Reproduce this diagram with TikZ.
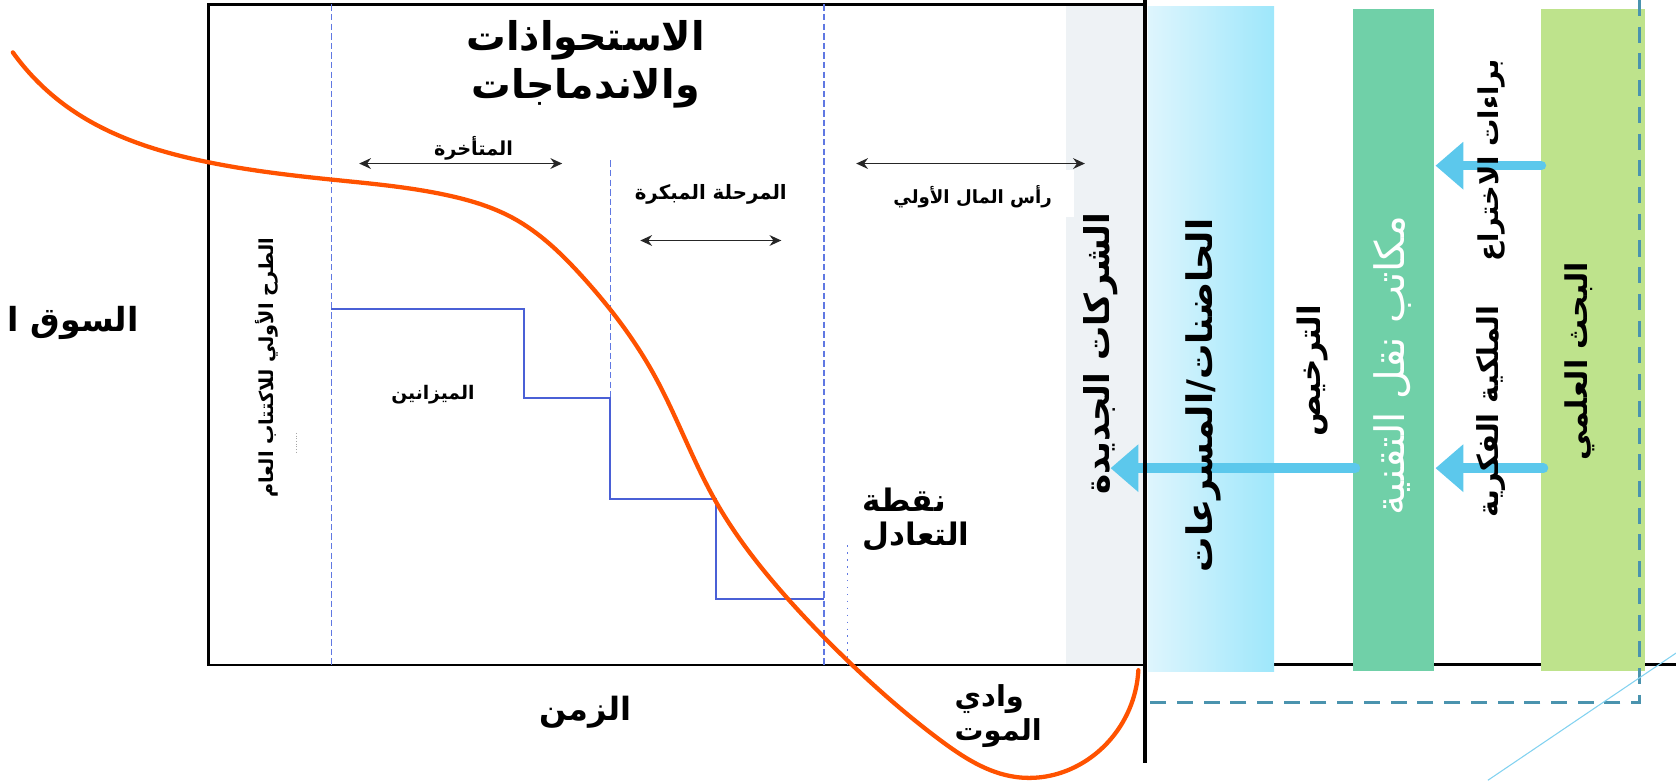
\documentclass[tikz,border=0pt]{standalone}
\usepackage{fontspec}
\newfontfamily\arfont[Script=Arabic]{DejaVu Sans}
\TeXXeTstate=1
\usetikzlibrary{arrows.meta,hobby}
\newcommand{\artext}[1]{\beginR #1\endR}
\definecolor{orangecurve}{RGB}{255,82,0}
\definecolor{stepblue}{RGB}{74,96,214}
\definecolor{dashblue}{RGB}{96,120,226}
\definecolor{graybox}{RGB}{238,242,245}
\definecolor{lbL}{RGB}{222,245,253}
\definecolor{lbR}{RGB}{158,231,251}
\definecolor{tgreen}{RGB}{112,208,168}
\definecolor{lgreen}{RGB}{190,227,140}
\definecolor{arrblue}{RGB}{92,200,236}
\definecolor{tealdash}{RGB}{74,147,174}
\definecolor{diagblue}{RGB}{130,210,240}
\tikzset{
  lbl/.style={inner sep=0pt, font=\arfont\bfseries\fontsize{#1}{#1}\selectfont},
  rlbl/.style={inner sep=0pt, font=\arfont\fontsize{#1}{#1}\selectfont},
  dbl/.style={line width=1.8pt, draw=black!85, {Stealth[length=11pt,width=10pt]}-{Stealth[length=11pt,width=10pt]}},
  flow/.style={line width=9pt, draw=arrblue, line cap=round, -{Triangle[length=26pt,width=43pt]}},
  vdash/.style={draw=dashblue, line width=1.4pt, dash pattern=on 6pt off 3pt},
  frame/.style={draw=black, line width=2.5pt},
}
\begin{document}
\begin{tikzpicture}[x=1pt,y=-1pt]
\useasboundingbox (0,0) rectangle (1568,730);
% background boxes
\fill[graybox] (997,4) rectangle (1070,622);
\fill[white] (990,159) rectangle (1005,203);
\draw[line width=3pt] (1192,622) -- (1568,622);
\shade[left color=lbL, right color=lbR] (1074,6) rectangle (1192,628);
\fill[tgreen] (1266,8) rectangle (1342,628);
\fill[lgreen] (1442,8) rectangle (1539,628);
% teal dashed frame
\coordinate (t1) at (1534,0);
\coordinate (t2) at (1534,657);
\coordinate (t3) at (1074,657);
\draw[tealdash, line width=3pt, dash pattern=on 15pt off 10pt] (t1) -- (t2) -- (t3);
% diagonal thin line
\coordinate (d1) at (1392,730);
\coordinate (d2) at (1568,611);
\draw[diagblue, line width=1pt] (d1) -- (d2);
% blue flow arrows
\coordinate (a1s) at (1442,155);
\coordinate (a1e) at (1343,155);
\coordinate (a2s) at (1444,438);
\coordinate (a2e) at (1343,438);
\coordinate (a3s) at (1268,438);
\coordinate (a3e) at (1039,438);
\draw[flow] (a1s) -- (a1e);
\draw[flow] (a2s) -- (a2e);
\draw[flow] (a3s) -- (a3e);
% frame
\coordinate (f1) at (1070,4);
\coordinate (f2) at (195,4);
\coordinate (f3) at (195,622);
\coordinate (f4) at (1070,622);
\draw[frame] (f1) -- (f2) -- (f3) -- (f4);
\coordinate (v1) at (1071,0);
\coordinate (v2) at (1071,714);
\draw[line width=4pt] (v1) -- (v2);
% blue dashed verticals
\coordinate (b1t) at (310,4); \coordinate (b1b) at (310,622);
\coordinate (b2t) at (771,4); \coordinate (b2b) at (771,622);
\coordinate (b3t) at (571,150); \coordinate (b3b) at (571,372);
\draw[vdash] (b1t) -- (b1b);
\draw[vdash] (b2t) -- (b2b);
\draw[vdash] (b3t) -- (b3b);
\coordinate (dt) at (793,510); \coordinate (db) at (793,622);
\draw[dashblue, line width=1.4pt, dash pattern=on 1.5pt off 5pt] (dt) -- (db);
\draw[gray!70, line width=0.6pt, dash pattern=on 1pt off 1.5pt] (277,405) -- (277,423);
% budget steps
\draw[stepblue, line width=1.8pt] (310,289) -- (490,289) -- (490,372) -- (571,372) -- (571,467) -- (670,467) -- (670,560) -- (771,560);
% double arrows
\coordinate (l1) at (336,153); \coordinate (l2) at (526,153);
\coordinate (e1) at (599,225); \coordinate (e2) at (731,225);
\coordinate (s1) at (801,153); \coordinate (s2) at (1015,153);
\draw[dbl] (l1) -- (l2);
\draw[dbl] (e1) -- (e2);
\draw[dbl] (s1) -- (s2);
% curve
\draw[orangecurve, line width=4pt, line cap=round, use Hobby shortcut]
 (12,49) .. (63,100) .. (196,152) .. (310,168) .. (420,183) .. (480,204) .. (545,259) .. (611,349) .. (669,468) .. (736,559) .. (795,620) .. (879,692) .. (951,727) .. (1036,695) .. (1065,627);
% texts
\node[lbl=37, align=center] (title) at (548,60) {\artext{الاستحواذات}\\[7pt]\artext{والاندماجات}};
\node[lbl=18] (late) at (443,139) {\artext{المتأخرة}};
\node[lbl=18.5] (early) at (665,182) {\artext{المرحلة المبكرة}};
\node[lbl=17] (seed) at (910,184) {\artext{رأس المال الأولي}};
\node[lbl=18, rotate=90] (ipo) at (250,344) {\artext{الطرح الأولي للاكتتاب العام}};
\node[lbl=17.5] (mezz) at (405,369) {\artext{الميزانين}};
\node[lbl=31, anchor=east] (market) at (130,302) {\artext{السوق ا}};
\node[lbl=30] (time) at (548,666) {\artext{الزمن}};
\node[lbl=29, anchor=west, align=left] (breakeven) at (807,486) {\artext{نقطة}\\[3pt]\artext{التعادل}};
\node[lbl=27, anchor=west, align=left] (valley) at (893,670) {\artext{وادي}\\[3pt]\artext{الموت}};
\node[lbl=32, rotate=90] (startups) at (1030,331) {\artext{الشركات الجديدة}};
\node[lbl=33, rotate=90] (incub) at (1126,370) {\artext{الحاضنات/المسرعات}};
\node[lbl=29, rotate=90] (license) at (1228,347) {\artext{الترخيص}};
\node[rlbl=38, rotate=90, text=white] (tto) at (1303,342) {\artext{مكاتب نقل التقنية}};
\node[lbl=25.5, rotate=90] (patents) at (1395,150) {\artext{براءات الاختراع}};
\node[lbl=27, rotate=90] (ip) at (1395,385) {\artext{الملكية الفكرية}};
\node[lbl=28, rotate=90] (research) at (1478,338) {\artext{البحث العلمي}};
\end{tikzpicture}
\end{document}
